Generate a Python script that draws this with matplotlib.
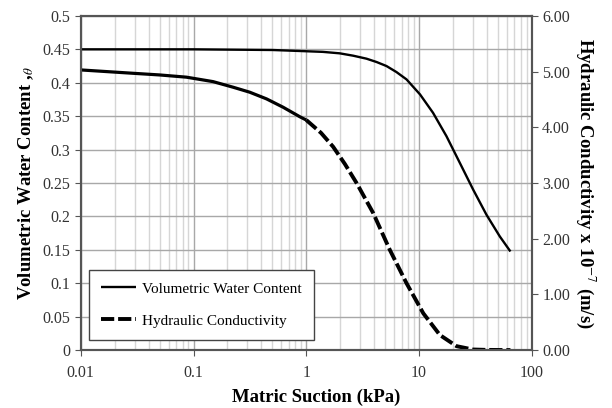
import matplotlib
matplotlib.use('Agg')
import matplotlib.pyplot as plt
import numpy as np
from matplotlib.ticker import LogLocator, FixedLocator, FormatStrFormatter, NullFormatter, FuncFormatter

plt.rcParams['font.family'] = ['Liberation Serif', 'DejaVu Serif']
plt.rcParams['mathtext.fontset'] = 'stix'

# Dados
succao_vwc = [0.01, 0.1, 0.5, 0.875, 1.4, 1.98, 2.6, 3.42, 4.2, 5.14, 6.3, 7.74, 10.2, 13.3,
              17.5, 23, 30.2, 39.6, 52, 64.6]
teor_agua = [0.450, 0.450, 0.449, 0.4475, 0.4462, 0.444, 0.4405, 0.436, 0.431, 0.425, 0.416,
             0.405, 0.3825, 0.355, 0.320, 0.280, 0.240, 0.2025, 0.170, 0.1475]

succao_k = [0.01, 0.029, 0.05, 0.0865, 0.149, 0.224, 0.315, 0.444, 0.623, 0.875, 1.0, 1.35,
            1.73, 2.2, 2.79, 3.92, 5.5, 7.74, 10.9, 15.3, 21.5, 30, 40, 64.6]
condutividade = [5.03, 4.97, 4.94, 4.90, 4.82, 4.72, 4.63, 4.51, 4.36, 4.19, 4.13, 3.90,
                 3.65, 3.34, 3.00, 2.46, 1.80, 1.20, 0.66, 0.27, 0.07, 0.01, 0.003, 0.0]

fig = plt.figure(figsize=(6.12, 4.08), dpi=100)
ax = fig.add_axes([0.132, 0.142, 0.737, 0.819])
ax2 = ax.twinx()

l1, = ax.plot(succao_vwc, teor_agua, color='black', lw=1.7, solid_capstyle='butt')

# A curva de condutividade aparece contínua até 1 kPa e tracejada depois
sk = np.array(succao_k)
kk = np.array(condutividade)
ax2.plot(sk[sk <= 1.0], kk[sk <= 1.0], color='black', lw=2.3, solid_capstyle='butt')
l2, = ax2.plot(sk[sk >= 1.0], kk[sk >= 1.0], color='black', lw=2.8, ls=(0, (3.4, 1.0)),
               dash_capstyle='butt')

ax.set_xscale('log')
ax.set_xlim(0.01, 100)
ax.set_ylim(0, 0.5)
ax2.set_ylim(0, 6)

ax.yaxis.set_major_locator(FixedLocator(np.arange(0, 0.51, 0.05)))
ax.yaxis.set_major_formatter(FuncFormatter(lambda v, p: f'{v:g}'))
ax2.yaxis.set_major_locator(FixedLocator(np.arange(0, 6.1, 1)))
ax2.yaxis.set_major_formatter(FormatStrFormatter('%.2f'))
ax.xaxis.set_major_formatter(FuncFormatter(lambda v, p: f'{v:g}'))
ax.xaxis.set_minor_locator(LogLocator(base=10, subs=np.arange(2, 10)))
ax.xaxis.set_minor_formatter(NullFormatter())

# Grade
ax.grid(axis='y', color='#a8a8a8', lw=1.0)
ax.grid(axis='x', which='major', color='#a8a8a8', lw=1.0)
ax.grid(axis='x', which='minor', color='#d6d6d6', lw=1.0)
ax.set_axisbelow(True)

ax.tick_params(axis='both', which='major', direction='out', length=4, labelsize=11.5,
               color='#555555', labelcolor='#333333')
ax.tick_params(axis='x', which='major', pad=7)
ax.tick_params(axis='x', which='minor', length=0)
ax2.tick_params(axis='y', direction='out', length=4, labelsize=11.5, color='#555555',
                labelcolor='#333333')
for a in (ax, ax2):
    for s in a.spines.values():
        s.set_color('#555555')
        s.set_linewidth(1.5)

ax.set_xlabel('Matric Suction (kPa)', fontsize=13.5, fontweight='bold')
ax.xaxis.set_label_coords(0.521, -0.115)
ax.set_ylabel(r'Volumetric Water Content ,$_{\theta}$', fontsize=13.5, fontweight='bold',
              labelpad=5)
ax2.set_ylabel(r'Hydraulic Conductivity x 10$^{-7}$ (m/s)', fontsize=13.5, fontweight='bold',
               rotation=270, labelpad=20)

leg = ax.legend([l1, l2], ['Volumetric Water Content', 'Hydraulic Conductivity'],
                loc='lower left', bbox_to_anchor=(0.0177, 0.03), borderaxespad=0,
                fontsize=11, frameon=True, fancybox=False, edgecolor='#444444',
                framealpha=1, handlelength=2.3, handletextpad=0.4, labelspacing=1.2,
                borderpad=0.8)
leg.get_frame().set_linewidth(1.0)

plt.savefig('out.png', dpi=100)
plt.close()
